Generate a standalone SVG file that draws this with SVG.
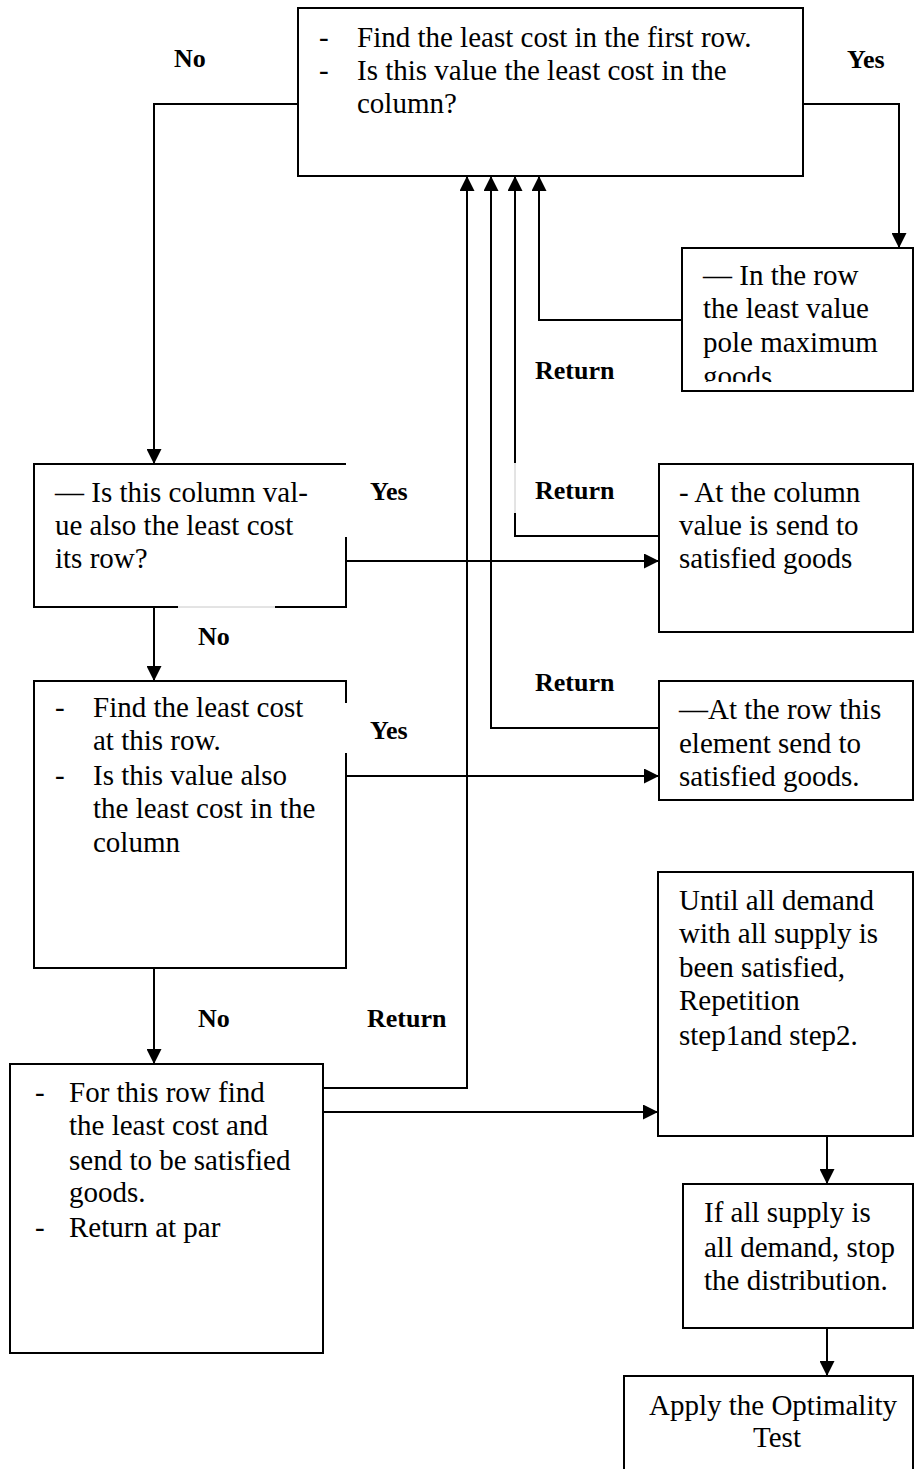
<svg xmlns="http://www.w3.org/2000/svg" width="915" height="1469" viewBox="0 0 915 1469">
<style>
.box{fill:#fff;stroke:#000;stroke-width:2}
.edge{fill:none;stroke:#000;stroke-width:2}
.ghost{fill:none;stroke:#c8c8c8;stroke-width:1}
.t{font-family:"Liberation Serif","Times New Roman",serif;font-size:29px;fill:#000}
.lbl{font-family:"Liberation Serif","Times New Roman",serif;font-size:26px;font-weight:bold;fill:#000}
</style>
<defs>
<marker id="arr" markerUnits="userSpaceOnUse" markerWidth="15" markerHeight="15" refX="15" refY="7.5" orient="auto">
<path d="M0,0 L15,7.5 L0,15 z" fill="#000"/>
</marker>
<clipPath id="clipRow"><rect x="682" y="248" width="233" height="134"/></clipPath>
</defs>

<g id="connectors">
<path class="edge" d="M298,104 L154,104 L154,464" marker-end="url(#arr)"/>
<path class="edge" d="M803,104 L899,104 L899,248" marker-end="url(#arr)"/>
<path class="edge" d="M682,320 L539,320 L539,176" marker-end="url(#arr)"/>
<path class="edge" d="M659,536 L515,536 L515,513"/>
<path class="ghost" d="M515,513 L515,463"/>
<path class="edge" d="M515,463 L515,176" marker-end="url(#arr)"/>
<path class="edge" d="M659,728 L491,728 L491,176" marker-end="url(#arr)"/>
<path class="edge" d="M323,1088 L467,1088 L467,176" marker-end="url(#arr)"/>
<path class="edge" d="M346,561 L659,561" marker-end="url(#arr)"/>
<path class="edge" d="M346,776 L659,776" marker-end="url(#arr)"/>
<path class="edge" d="M154,607 L154,681" marker-end="url(#arr)"/>
<path class="edge" d="M154,968 L154,1064" marker-end="url(#arr)"/>
<path class="edge" d="M323,1112 L658,1112" marker-end="url(#arr)"/>
<path class="edge" d="M827,1136 L827,1184" marker-end="url(#arr)"/>
<path class="edge" d="M827,1328 L827,1376" marker-end="url(#arr)"/>
<text class="lbl" x="174" y="67">No</text>
<text class="lbl" x="847" y="68">Yes</text>
<text class="lbl" x="535" y="379">Return</text>
<text class="lbl" x="535" y="499">Return</text>
<text class="lbl" x="370" y="500">Yes</text>
<text class="lbl" x="198" y="645">No</text>
<text class="lbl" x="535" y="691">Return</text>
<text class="lbl" x="370" y="739">Yes</text>
<text class="lbl" x="198" y="1027">No</text>
<text class="lbl" x="367" y="1027">Return</text>
</g>

<g id="n_start">
<rect class="box" x="298" y="8" width="505" height="168"/>
<text class="t" x="319" y="47">-</text>
<text class="t" x="357" y="47">Find the least cost in the first row.</text>
<text class="t" x="319" y="80">-</text>
<text class="t" x="357" y="80">Is this value the least cost in the</text>
<text class="t" x="357" y="113">column?</text>
</g>

<g id="n_rowleast">
<rect class="box" x="682" y="248" width="231" height="143"/>
<g clip-path="url(#clipRow)">
<text class="t" x="703" y="285">— In the row</text>
<text class="t" x="703" y="318">the least value</text>
<text class="t" x="703" y="352">pole maximum</text>
<text class="t" x="703" y="386">goods</text>
</g>
</g>

<g id="n_colcheck">
<rect x="34" y="464" width="312" height="143" fill="#fff"/>
<path class="edge" d="M346,537 L346,607 L275,607 M178,607 L34,607 L34,464 L346,464"/>
<path class="ghost" d="M178,607 L275,607"/>
<text class="t" x="55" y="502">— Is this column val-</text>
<text class="t" x="55" y="535">ue also the least cost</text>
<text class="t" x="55" y="568">its row?</text>
</g>

<g id="n_colsend">
<rect class="box" x="659" y="464" width="254" height="168"/>
<text class="t" x="679" y="502">- At the column</text>
<text class="t" x="679" y="535">value is send to</text>
<text class="t" x="679" y="568">satisfied goods</text>
</g>

<g id="n_rowcheck">
<rect x="34" y="681" width="312" height="287" fill="#fff"/>
<path class="edge" d="M346,753 L346,968 L34,968 L34,681 L346,681 L346,703"/>
<text class="t" x="55" y="717">-</text>
<text class="t" x="93" y="717">Find the least cost</text>
<text class="t" x="93" y="750">at this row.</text>
<text class="t" x="55" y="785">-</text>
<text class="t" x="93" y="785">Is this value also</text>
<text class="t" x="93" y="818">the least cost in the</text>
<text class="t" x="93" y="852">column</text>
</g>

<g id="n_rowsend">
<rect class="box" x="659" y="681" width="254" height="119"/>
<text class="t" x="679" y="719">—At the row this</text>
<text class="t" x="679" y="753">element send to</text>
<text class="t" x="679" y="786">satisfied goods.</text>
</g>

<g id="n_rowfind">
<rect class="box" x="10" y="1064" width="313" height="289"/>
<text class="t" x="35" y="1102">-</text>
<text class="t" x="69" y="1102">For this row find</text>
<text class="t" x="69" y="1135">the least cost and</text>
<text class="t" x="69" y="1170">send to be satisfied</text>
<text class="t" x="69" y="1202">goods.</text>
<text class="t" x="35" y="1237">-</text>
<text class="t" x="69" y="1237">Return at par</text>
</g>

<g id="n_until">
<rect class="box" x="658" y="872" width="255" height="264"/>
<text class="t" x="679" y="910">Until all demand</text>
<text class="t" x="679" y="943">with all supply is</text>
<text class="t" x="679" y="977">been satisfied,</text>
<text class="t" x="679" y="1010">Repetition</text>
<text class="t" x="679" y="1045">step1and step2.</text>
</g>

<g id="n_stop">
<rect class="box" x="683" y="1184" width="230" height="144"/>
<text class="t" x="704" y="1222">If all supply is</text>
<text class="t" x="704" y="1257">all demand, stop</text>
<text class="t" x="704" y="1290">the distribution.</text>
</g>

<g id="n_apply">
<path class="edge" d="M624,1475 L624,1376 L913,1376 L913,1475"/>
<text class="t" x="773" y="1415" text-anchor="middle">Apply the Optimality</text>
<text class="t" x="777" y="1447" text-anchor="middle">Test</text>
</g>
</svg>
